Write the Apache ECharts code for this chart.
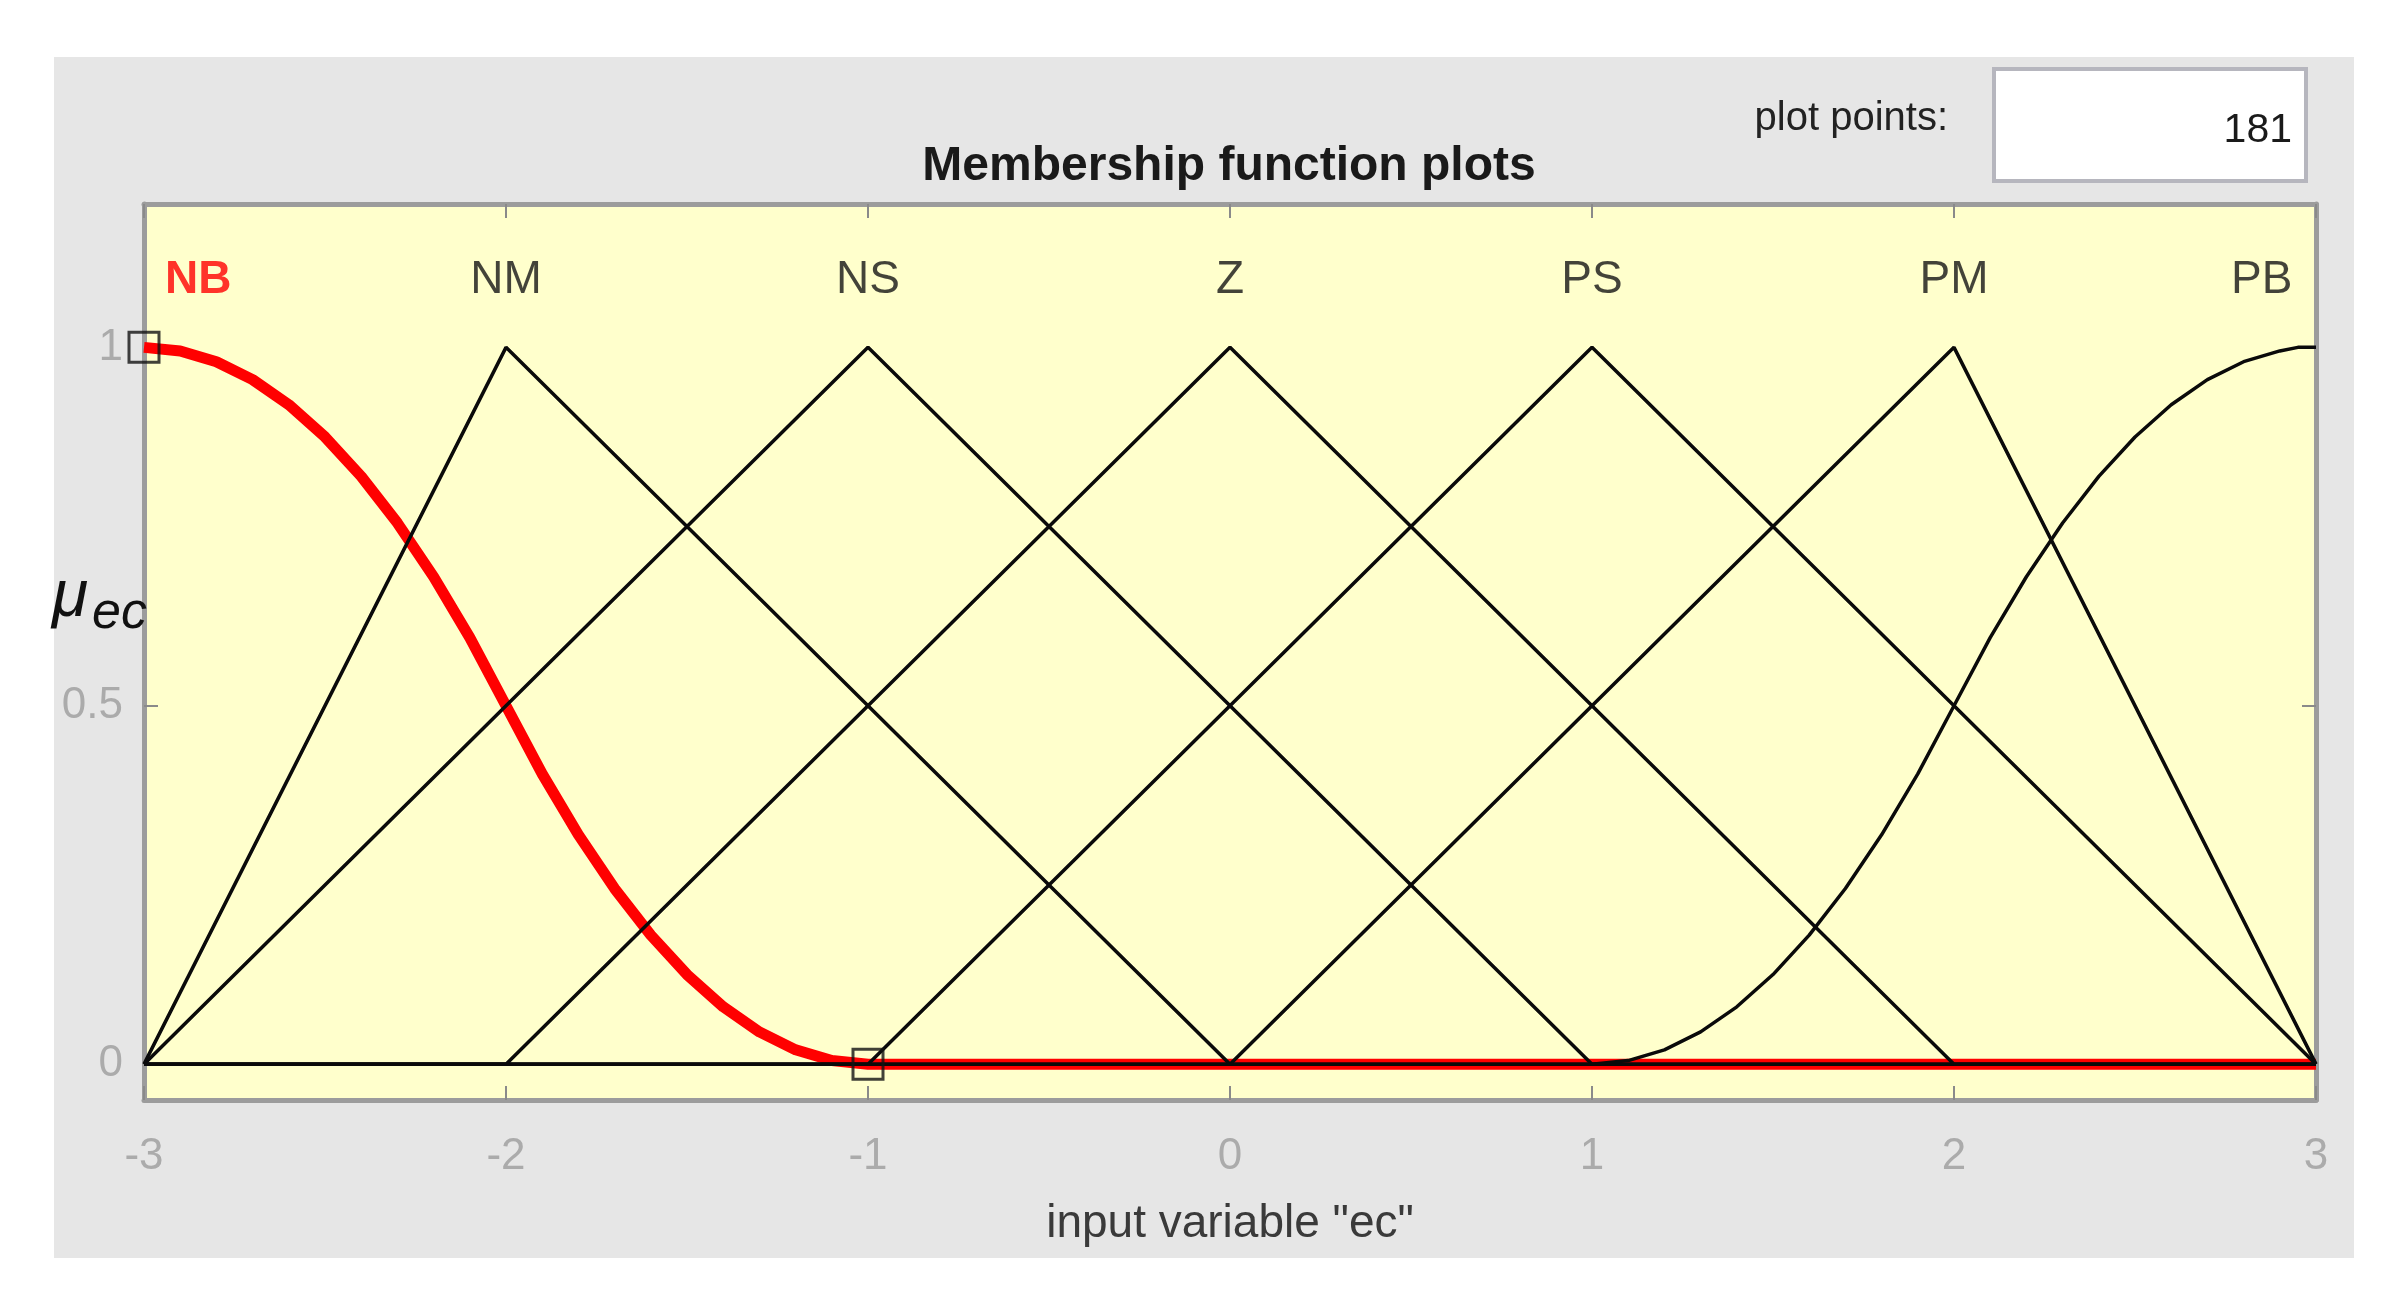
<!DOCTYPE html>
<html>
<head>
<meta charset="utf-8">
<title>Membership function plots</title>
<script src="https://cdn.jsdelivr.net/npm/echarts@6/dist/echarts.min.js"></script>
<style>
  html, body { margin: 0; padding: 0; background: #ffffff; }
  #chart { width: 2401px; height: 1309px; }
</style>
</head>
<body>
<div id="chart"></div>
<script>
// membership functions of input variable "ec"

const xTicks = [-3, -2, -1, 0, 1, 2, 3];
const yTicks = [0, 0.5, 1];
const mfNames = ['NB', 'NM', 'NS', 'Z', 'PS', 'PM', 'PB'];
const mfLabelX = [-2.85, -2, -1, 0, 1, 2, 2.85];
const mfLabelY = 1.094;

// NB (z-shaped, selected)
const nbX = [-3, -2.9, -2.8, -2.7, -2.6, -2.5, -2.4, -2.3, -2.2, -2.1, -2, -1.9, -1.8, -1.7, -1.6, -1.5, -1.4, -1.3, -1.2, -1.1, -1, 3];
const nbY = [1, 0.995, 0.98, 0.955, 0.92, 0.875, 0.82, 0.755, 0.68, 0.595, 0.5, 0.405, 0.32, 0.245, 0.18, 0.125, 0.08, 0.045, 0.02, 0.005, 0, 0];

// triangles (corner points)
const nmPts = [[-3, 0], [-2, 1], [0, 0], [3, 0]];
const nsPts = [[-3, 0], [-1, 1], [1, 0], [3, 0]];
const zPts = [[-3, 0], [-2, 0], [0, 1], [2, 0], [3, 0]];
const psPts = [[-3, 0], [-1, 0], [1, 1], [3, 0]];
const pmPts = [[-3, 0], [0, 0], [2, 1], [3, 0]];

// PB (s-shaped)
const pbX = [-3, 1, 1.1, 1.2, 1.3, 1.4, 1.5, 1.6, 1.7, 1.8, 1.9, 2, 2.1, 2.2, 2.3, 2.4, 2.5, 2.6, 2.7, 2.8, 2.9, 2.95, 3];
const pbY = [0, 0, 0.005, 0.02, 0.045, 0.08, 0.125, 0.18, 0.245, 0.32, 0.405, 0.5, 0.595, 0.68, 0.755, 0.82, 0.875, 0.92, 0.955, 0.98, 0.995, 1, 1];

// handles of the selected MF
const handlePts = [[-3, 1], [-1, 0]];

const FONT = '"Liberation Sans", Arial, sans-serif';
const chart = echarts.init(document.getElementById('chart'));

function blackLine(name, data) {
    return {
        name: name, type: 'line', data: data, symbol: 'none', silent: true, z: 3,
        lineStyle: { color: '#0a0a0a', width: 3.5 }
    };
}

const zip = (xs, ys) => xs.map((x, i) => [x, ys[i]]);

chart.setOption({
    backgroundColor: '#ffffff',
    animation: false,
    graphic: [
        { type: 'rect', shape: { x: 54, y: 57, width: 2300, height: 1201 }, style: { fill: '#e6e6e6' }, z: -10 },
        { type: 'rect', shape: { x: 1994, y: 69, width: 312, height: 112 }, style: { fill: '#ffffff', stroke: '#b6b6be', lineWidth: 4 }, z: 1 },
        { type: 'text', x: 2292, y: 131, style: { text: '181', fontSize: 41, fontFamily: FONT, fill: '#1a1a1a', textAlign: 'right', textVerticalAlign: 'middle' }, z: 2 },
        { type: 'text', x: 1948, y: 119, style: { text: 'plot points:', fontSize: 40, fontFamily: FONT, fill: '#222222', textAlign: 'right', textVerticalAlign: 'middle' }, z: 2 },
        { type: 'text', x: 1229, y: 167, style: { text: 'Membership function plots', fontSize: 48, fontWeight: 'bold', fontFamily: FONT, fill: '#1a1a1a', textAlign: 'center', textVerticalAlign: 'middle' }, z: 2 },
        { type: 'text', x: 52, y: 598, style: { text: 'μ', fontSize: 66, fontStyle: 'italic', fontFamily: FONT, fill: '#111111', textAlign: 'left', textVerticalAlign: 'middle' }, z: 2 },
        { type: 'text', x: 92, y: 614, style: { text: 'ec', fontSize: 52, fontStyle: 'italic', fontFamily: FONT, fill: '#111111', textAlign: 'left', textVerticalAlign: 'middle' }, z: 2 }
    ],
    grid: {
        left: 144, right: 85, top: 204, bottom: 209,
        show: true, backgroundColor: '#ffffcc', borderWidth: 0
    },
    xAxis: [{
        type: 'value', min: -3, max: 3, interval: 1, position: 'bottom',
        name: 'input variable "ec"', nameLocation: 'middle', nameGap: 101,
        nameTextStyle: { fontSize: 46, fontFamily: FONT, color: '#3a3a3a' },
        axisLine: { onZero: false, lineStyle: { color: '#9c9c9c', width: 5 } },
        axisTick: { inside: true, length: 14, lineStyle: { color: '#8a8a8a', width: 2 } },
        axisLabel: { margin: 35, fontSize: 44, fontFamily: FONT, color: '#ababab', formatter: v => String(v) },
        splitLine: { show: false }
    }, {
        type: 'value', min: -3, max: 3, interval: 1, position: 'top',
        axisLine: { onZero: false, lineStyle: { color: '#9c9c9c', width: 5 } },
        axisTick: { inside: true, length: 14, lineStyle: { color: '#8a8a8a', width: 2 } },
        axisLabel: { show: false }, splitLine: { show: false }
    }],
    yAxis: [{
        type: 'value', min: -0.05, max: 1.2, position: 'left',
        axisLine: { onZero: false, lineStyle: { color: '#9c9c9c', width: 5 } },
        axisLabel: {
            margin: 21, fontSize: 44, fontFamily: FONT, color: '#ababab',
            customValues: yTicks, formatter: v => String(v)
        },
        axisTick: { inside: true, length: 14, customValues: yTicks, lineStyle: { color: '#8a8a8a', width: 2 } },
        splitLine: { show: false }
    }, {
        type: 'value', min: -0.05, max: 1.2, position: 'right',
        axisLine: { onZero: false, lineStyle: { color: '#9c9c9c', width: 5 } },
        axisTick: { inside: true, length: 14, customValues: yTicks, lineStyle: { color: '#8a8a8a', width: 2 } },
        axisLabel: { show: false }, splitLine: { show: false }
    }],
    series: [
        {
            name: 'NB', type: 'line', data: zip(nbX, nbY),
            symbol: 'none', silent: true, z: 2,
            lineStyle: { color: '#ff0000', width: 11, join: 'round' }
        },
        blackLine('NM', nmPts),
        blackLine('NS', nsPts),
        blackLine('Z', zPts),
        blackLine('PS', psPts),
        blackLine('PM', pmPts),
        blackLine('PB', zip(pbX, pbY)),
        {
            name: 'handles', type: 'scatter', data: handlePts, symbol: 'rect', symbolSize: 30,
            silent: true, z: 5,
            itemStyle: { color: 'rgba(0,0,0,0)', borderColor: '#111111', borderWidth: 3 }
        },
        {
            name: 'labels', type: 'scatter', symbolSize: 0, silent: true, z: 6,
            data: mfNames.map((n, i) => ({
                value: [mfLabelX[i], mfLabelY],
                label: {
                    show: true, position: 'inside', formatter: n,
                    fontSize: 46, fontFamily: FONT,
                    fontWeight: i === 0 ? 'bold' : 'normal',
                    color: i === 0 ? '#ff0000' : '#141414'
                }
            }))
        }
    ]
});

window.addEventListener('resize', () => chart.resize());
</script>
</body>
</html>
